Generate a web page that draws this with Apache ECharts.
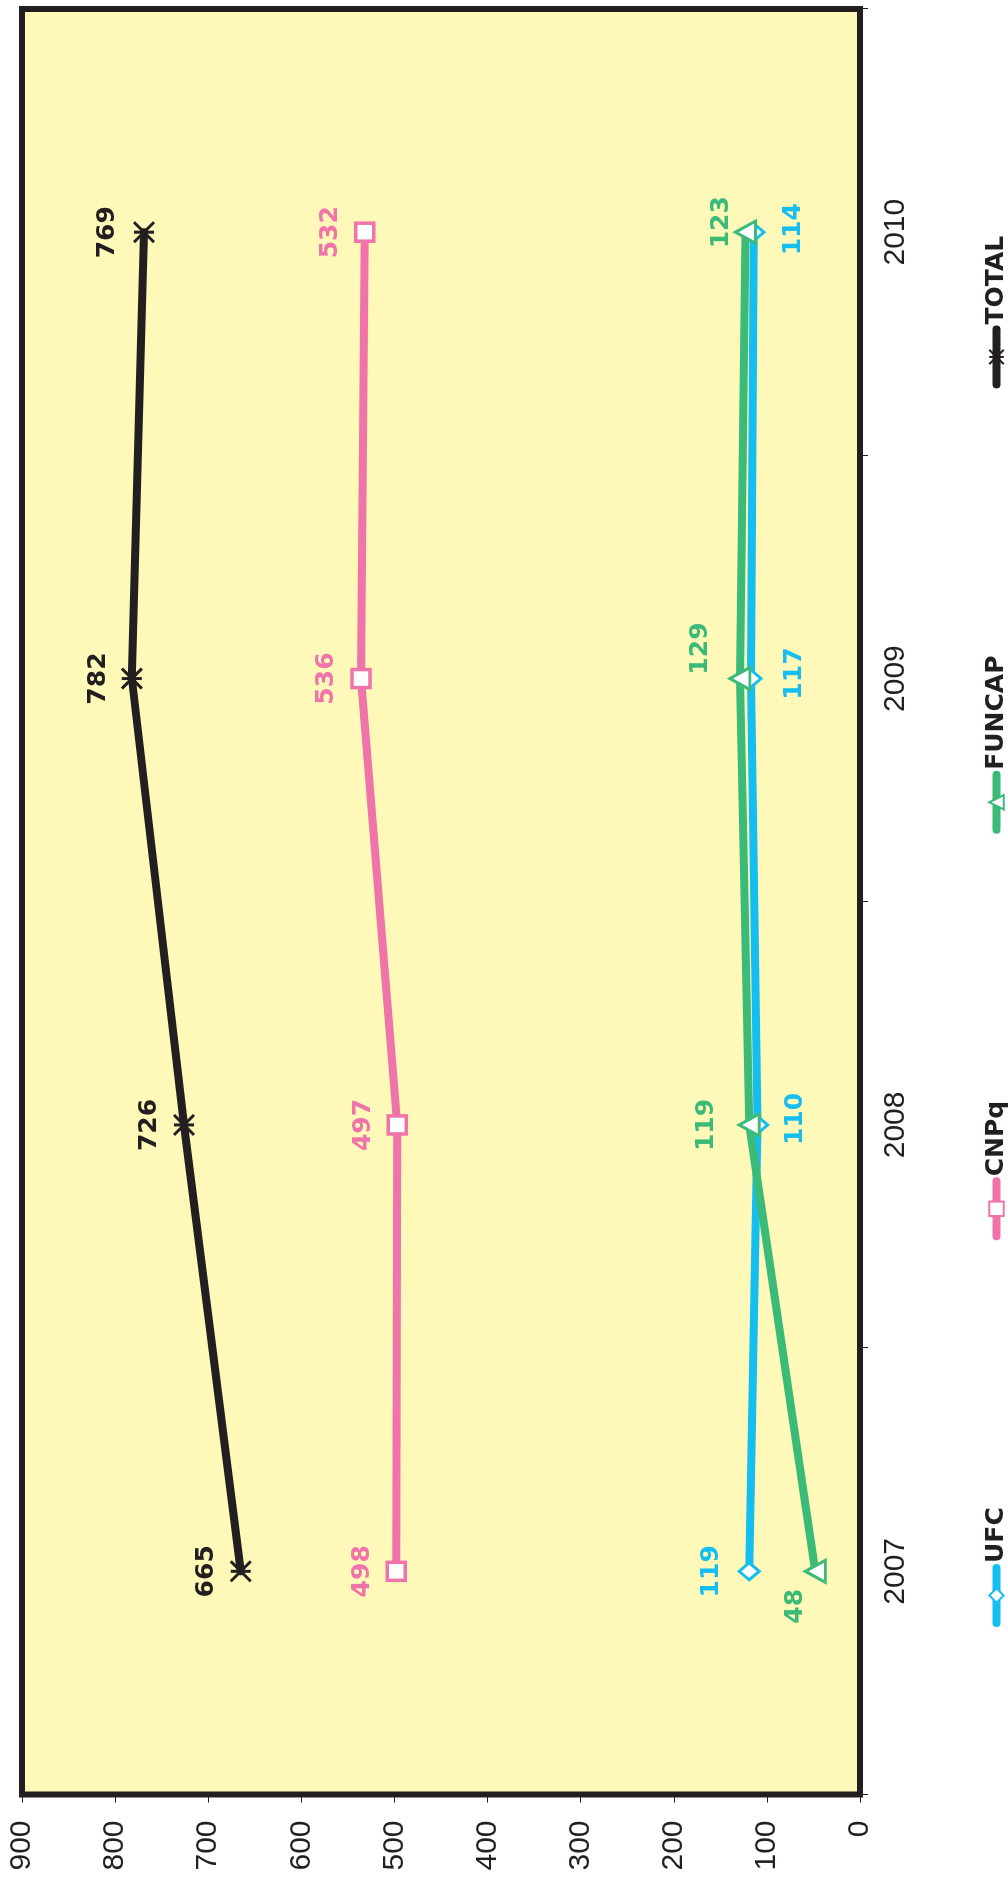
<!DOCTYPE html>
<html>
<head>
<meta charset="utf-8">
<script src="https://cdn.jsdelivr.net/npm/echarts@6/dist/echarts.min.js"></script>
<style>
html,body{margin:0;padding:0;background:#ffffff;overflow:hidden;width:1008px;height:1879px;}
#wrap{position:absolute;left:0;top:0;width:1879px;height:1008px;transform-origin:0 0;transform:translate(0px,1879px) rotate(-90deg);}
#chart{width:1879px;height:1008px;}
</style>
</head>
<body>
<div id="wrap"><div id="chart"></div></div>
<script>
// ---- data ----
const years = ['2007', '2008', '2009', '2010'];
const seriesNames = ['UFC', 'CNPq', 'FUNCAP', 'TOTAL'];
const ufcValues = [119, 110, 117, 114];
const cnpqValues = [498, 497, 536, 532];
const funcapValues = [48, 119, 129, 123];
const totalValues = [665, 726, 782, 769];
const valueMin = 0;
const valueMax = 900;
const valueStep = 100;

// ---- label placement (dx, dy from the point, unrotated frame) ----
const ufcLabelOffsets = [[0, -38], [6, 38], [5, 43], [3, 40]];
const cnpqLabelOffsets = [[0, -34], [0, -34], [0, -34], [0, -34]];
const funcapLabelOffsets = [[-35, -20], [0, -43], [30, -39], [10, -24]];
const totalLabelOffsets = [[0, -34], [0, -35], [0, -33], [0, -36]];

const INK = '#231F20';
const COLORS = { UFC: '#14BEF0', CNPq: '#F073AA', FUNCAP: '#3CBA78', TOTAL: '#231F20' };

function makeSeries(name, values, offsets, symbol, symbolSize, fill, borderW) {
  const color = COLORS[name];
  return {
    name: name,
    type: 'line',
    data: values.map((v, i) => ({ value: v, label: { offset: offsets[i] } })),
    symbol: symbol,
    symbolSize: symbolSize,
    showAllSymbol: true,
    lineStyle: { color: color, width: 8, cap: 'round', join: 'round' },
    itemStyle: { color: fill, borderColor: color, borderWidth: borderW },
    label: {
      show: true,
      position: 'inside',
      color: color,
      fontFamily: 'DejaVu Sans',
      fontWeight: 'bold',
      fontSize: 25,
      textBorderWidth: 0,
      formatter: '{c}'
    },
    emphasis: { disabled: true }
  };
}

const chart = echarts.init(document.getElementById('chart'), null, { renderer: 'canvas' });
chart.setOption({
  animation: false,
  backgroundColor: '#ffffff',
  grid: {
    left: 84.5, right: 9, top: 22, bottom: 148,
    show: true,
    backgroundColor: '#FFF9B9',
    borderColor: INK,
    borderWidth: 6
  },
  legend: {
    data: seriesNames,
    left: 247,
    top: 979,
    itemWidth: 55,
    itemHeight: 18,
    itemGap: 267,
    lineStyle: { width: 8, cap: 'round' },
    textStyle: { fontFamily: 'DejaVu Sans', fontWeight: 'bold', fontSize: 25, color: INK }
  },
  xAxis: {
    type: 'category',
    data: years,
    boundaryGap: true,
    axisLine: { show: false },
    axisTick: { show: true, length: 8, alignWithLabel: false, lineStyle: { color: INK, width: 1 } },
    axisLabel: { margin: 21, fontSize: 30, fontFamily: 'Liberation Sans', color: INK }
  },
  yAxis: {
    type: 'value',
    min: valueMin,
    max: valueMax,
    interval: valueStep,
    axisLine: { show: false },
    axisTick: { show: true, length: 8, lineStyle: { color: INK, width: 1 } },
    splitLine: { show: false },
    axisLabel: { margin: 26, fontSize: 30, fontFamily: 'Liberation Sans', color: INK }
  },
  series: [
    makeSeries('UFC', ufcValues, ufcLabelOffsets, 'diamond', [17, 20], '#ffffff', 3),
    makeSeries('CNPq', cnpqValues, cnpqLabelOffsets, 'rect', [18, 18], '#ffffff', 3.5),
    makeSeries('FUNCAP', funcapValues, funcapLabelOffsets, 'triangle', [22, 20], '#ffffff', 3),
    makeSeries('TOTAL', totalValues, totalLabelOffsets, 'path://M0,0L20,20M0,20L20,0M10,0L10,20', [20, 20], INK, 3)
  ]
});
</script>
</body>
</html>
